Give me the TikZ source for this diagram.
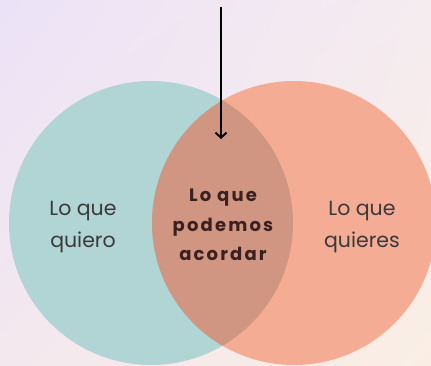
\documentclass[tikz,border=0pt]{standalone}
\usepackage{fontspec}
\setmainfont{Poppins}
\newfontfamily\boldspaced[LetterSpace=12]{Poppins Bold}
\usetikzlibrary{arrows.meta,shadings}
\definecolor{bgTL}{RGB}{236,226,247}
\definecolor{bgTR}{RGB}{245,236,240}
\definecolor{bgBL}{RGB}{243,232,238}
\definecolor{bgBR}{RGB}{250,238,228}
\definecolor{tealc}{RGB}{177,212,212}
\definecolor{salmonc}{RGB}{244,172,148}
\definecolor{overlapc}{RGB}{208,150,130}
\definecolor{sidetext}{RGB}{58,58,60}
\definecolor{midtext}{RGB}{58,32,32}
\tikzset{
  setcircle/.style={circle, minimum size=284pt, inner sep=0pt, draw=none},
  sidelabel/.style={align=center, font=\fontsize{20.5}{32}\selectfont, text=sidetext},
  midlabel/.style={align=center, font=\fontsize{18}{29.5}\selectfont\boldspaced, text=midtext},
  pointer/.style={-{Straight Barb[length=5pt,width=11pt,line width=2pt]}, line width=2pt, black}
}
\begin{document}
\begin{tikzpicture}[x=1pt,y=1pt]
\useasboundingbox (0,0) rectangle (431,365);
\clip (0,0) rectangle (431,365);
\shade[upper left=bgTL, upper right=bgTR, lower left=bgBL, lower right=bgBR] (0,0) rectangle (431,365);
\node[setcircle, fill=tealc] (left) at (151,142) {};
\node[setcircle, fill=salmonc] (right) at (294,142) {};
\begin{scope}
  \clip (151,142) circle (142);
  \fill[overlapc] (294,142) circle (142);
\end{scope}
\node[sidelabel] (want) at (83,138) {Lo que\\quiero};
\node[sidelabel] (youwant) at (362,138) {Lo que\\quieres};
\node[midlabel] (agree) at (223,140) {Lo que\\podemos\\acordar};
\coordinate (top) at (221,358);
\coordinate (tip) at (221,226);
\draw[pointer] (top) -- (tip);
\end{tikzpicture}
\end{document}
